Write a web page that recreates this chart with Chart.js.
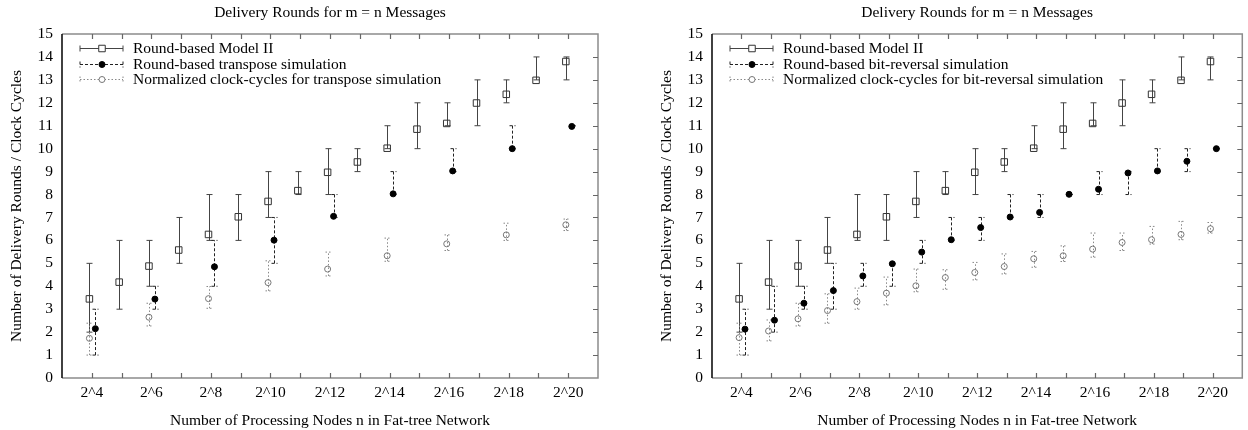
<!DOCTYPE html>
<html>
<head>
  <script src="https://cdn.jsdelivr.net/npm/chart.js@4.4.0/dist/chart.umd.min.js"></script>
  <style>
    body { margin: 0; background: #fff; }
    #wrap { position: relative; width: 1248px; height: 430px; overflow: hidden; }
    canvas { position: absolute; top: 0; }
  </style>
  <script>
    // exponents of n (x axis shows 2^k)
    var exps = [4, 5, 6, 7, 8, 9, 10, 11, 12, 13, 14, 15, 16, 17, 18, 19, 20];
    var evenExps = [4, 6, 8, 10, 12, 14, 16, 18, 20];

    // Round-based Model II (same in both plots)
    var modelMean = [3.45, 4.18, 4.88, 5.58, 6.26, 7.03, 7.7, 8.17, 8.97, 9.42, 10.02, 10.85, 11.1, 11.99, 12.37, 12.98, 13.8];
    var modelLow  = [2, 3, 4, 5, 6, 6, 7, 8, 8, 9, 10, 10, 11, 11, 12, 13, 13];
    var modelHigh = [5, 6, 6, 7, 8, 8, 9, 9, 10, 10, 11, 12, 12, 13, 13, 14, 14];

    // transpose simulation (even exponents only)
    var transMean = [2.15, 3.44, 4.85, 6.01, 7.05, 8.03, 9.03, 10.0, 10.97];
    var transLow  = [1, 3, 4, 5, 7, 8, 9, 10, 11];
    var transHigh = [3, 4, 6, 7, 8, 9, 10, 11, 11];
    var transClkMean = [1.73, 2.65, 3.46, 4.16, 4.75, 5.33, 5.85, 6.24, 6.68];
    var transClkLow  = [1.0, 2.27, 3.04, 3.8, 4.45, 5.09, 5.56, 6.0, 6.43];
    var transClkHigh = [2.39, 3.26, 3.99, 5.11, 5.49, 6.1, 6.24, 6.75, 6.93];

    // bit-reversal simulation (all exponents)
    var bitMean = [2.13, 2.52, 3.26, 3.81, 4.45, 4.98, 5.49, 6.03, 6.56, 7.02, 7.22, 8.01, 8.23, 8.94, 9.03, 9.45, 10.0];
    var bitLow  = [1, 2, 3, 3, 4, 4, 5, 6, 6, 7, 7, 8, 8, 8, 9, 9, 10];
    var bitHigh = [3, 4, 4, 5, 5, 5, 6, 7, 7, 8, 8, 8, 9, 9, 10, 10, 10];
    var bitClkMean = [1.76, 2.05, 2.58, 2.94, 3.33, 3.7, 4.02, 4.38, 4.6, 4.86, 5.2, 5.33, 5.62, 5.91, 6.03, 6.26, 6.51];
    var bitClkLow  = [1.0, 1.62, 2.27, 2.39, 3.0, 3.19, 3.76, 3.87, 4.28, 4.54, 4.83, 5.08, 5.27, 5.56, 5.84, 6.03, 6.32];
    var bitClkHigh = [2.39, 2.53, 3.26, 3.67, 3.92, 4.4, 4.75, 4.72, 5.04, 5.41, 5.52, 5.76, 6.32, 6.32, 6.61, 6.83, 6.78];

    var FONT = 'Liberation Serif, Times New Roman, serif';

    function series(label, xs, mean, low, high, style) {
      return Object.assign({
        label: label,
        data: xs.map(function (e, i) { return { x: e + style.shift, y: mean[i] }; }),
        low: low,
        high: high,
        showLine: false
      }, style);
    }

    var styleModel = { shift: -0.08, pointStyle: 'rect', pointRadius: 4.6, borderWidth: 1, borderColor: '#333', backgroundColor: 'rgba(0,0,0,0)', barColor: '#444', barDash: [], hollow: true };
    var styleSim = { shift: 0.12, pointStyle: 'circle', pointRadius: 3, borderWidth: 1, borderColor: '#000', backgroundColor: '#000', barColor: '#222', barDash: [3, 2], hollow: false };
    var styleClk = { shift: -0.08, pointStyle: 'circle', pointRadius: 3, borderWidth: 1, borderColor: '#777', backgroundColor: 'rgba(0,0,0,0)', barColor: '#888', barDash: [1.5, 2], hollow: true };

    var frame = {
      id: 'frame',
      beforeDatasetsDraw: function (chart) {
        var ctx = chart.ctx, a = chart.chartArea, x = chart.scales.x, y = chart.scales.y;
        ctx.save();
        ctx.lineWidth = 1.5;
        ctx.strokeStyle = '#8c8c8c';
        ctx.beginPath();
        ctx.moveTo(a.left, a.top); ctx.lineTo(a.right, a.top);
        ctx.lineTo(a.right, a.bottom); ctx.lineTo(a.left, a.bottom);
        ctx.stroke();
        // inward tick marks, gnuplot style
        ctx.lineWidth = 1.2;
        ctx.strokeStyle = '#666';
        ctx.beginPath();
        x.ticks.forEach(function (t) {
          if (t.value <= x.min || t.value >= x.max) return;
          var px = Math.round(x.getPixelForValue(t.value)) + 0.5;
          ctx.moveTo(px, a.bottom); ctx.lineTo(px, a.bottom - 5);
          ctx.moveTo(px, a.top); ctx.lineTo(px, a.top + 5);
        });
        y.ticks.forEach(function (t) {
          if (t.value <= y.min || t.value >= y.max) return;
          var py = Math.round(y.getPixelForValue(t.value)) + 0.5;
          ctx.moveTo(a.right, py); ctx.lineTo(a.right - 5, py);
        });
        ctx.stroke();
        ctx.lineWidth = 1.6;
        ctx.strokeStyle = '#111';
        ctx.beginPath();
        ctx.moveTo(a.left, a.top); ctx.lineTo(a.left, a.bottom);
        ctx.stroke();
        ctx.restore();
      }
    };

    function bar(ctx, px, y1, y2, cap) {
      ctx.moveTo(px, y1); ctx.lineTo(px, y2);
      ctx.moveTo(px - cap, y1); ctx.lineTo(px + cap, y1);
      ctx.moveTo(px - cap, y2); ctx.lineTo(px + cap, y2);
    }

    var errorBars = {
      id: 'errorBars',
      beforeDatasetsDraw: function (chart) {
        var ctx = chart.ctx, y = chart.scales.y;
        chart.data.datasets.forEach(function (ds, i) {
          var meta = chart.getDatasetMeta(i);
          ctx.save();
          ctx.strokeStyle = ds.barColor;
          ctx.lineWidth = 1;
          ctx.setLineDash(ds.barDash);
          ctx.beginPath();
          meta.data.forEach(function (pt, j) {
            var px = Math.round(pt.x) + 0.5;
            bar(ctx, px, y.getPixelForValue(ds.low[j]), y.getPixelForValue(ds.high[j]), 3);
          });
          ctx.stroke();
          ctx.restore();
        });
      }
    };

    // key in the top-left corner of the plot
    var keyBox = {
      id: 'keyBox',
      afterDraw: function (chart) {
        var ctx = chart.ctx, a = chart.chartArea;
        ctx.save();
        chart.data.datasets.forEach(function (ds, i) {
          var cy = Math.round(a.top + 14 + i * 15.5) + 0.5;
          var x1 = a.left + 18, x2 = a.left + 61, xm = a.left + 40;
          ctx.strokeStyle = ds.barColor;
          ctx.lineWidth = 1;
          ctx.setLineDash(ds.barDash);
          ctx.beginPath();
          ctx.moveTo(x1, cy); ctx.lineTo(x2, cy);
          ctx.moveTo(x1, cy - 3); ctx.lineTo(x1, cy + 3);
          ctx.moveTo(x2, cy - 3); ctx.lineTo(x2, cy + 3);
          ctx.stroke();
          ctx.setLineDash([]);
          ctx.strokeStyle = ds.borderColor;
          ctx.fillStyle = ds.hollow ? '#fff' : ds.backgroundColor;
          ctx.beginPath();
          if (ds.pointStyle === 'rect') {
            var s = ds.pointRadius * Math.SQRT1_2;
            ctx.rect(xm - s, cy - s, 2 * s, 2 * s);
          } else {
            ctx.arc(xm, cy, ds.pointRadius, 0, Math.PI * 2);
          }
          ctx.fill();
          ctx.stroke();
          ctx.fillStyle = '#000';
          ctx.font = '15.5px ' + FONT;
          ctx.textBaseline = 'middle';
          ctx.textAlign = 'left';
          ctx.fillText(ds.label, a.left + 71, cy);
        });
        ctx.restore();
      }
    };

    function drawGraph(canvasId, padRight, datasets) {
      var ctx = document.getElementById(canvasId).getContext('2d');
      new Chart(ctx, {
        type: 'scatter',
        data: { datasets: datasets },
        options: {
          responsive: false,
          animation: false,
          events: [],
          layout: { padding: { left: 0, right: padRight, top: 0, bottom: 0 } },
          plugins: {
            legend: { display: false },
            tooltip: { enabled: false },
            title: {
              display: true,
              fullSize: false,
              text: 'Delivery Rounds for m = n Messages',
              color: '#000',
              font: { family: FONT, size: 15.5, weight: 'normal' },
              padding: { top: 3.2, bottom: 12.2 }
            }
          },
          scales: {
            x: {
              type: 'linear',
              min: 3,
              max: 21,
              grid: { display: false, drawTicks: false },
              border: { display: false },
              ticks: {
                stepSize: 1,
                autoSkip: false,
                maxRotation: 0,
                padding: 5.7,
                color: '#000',
                font: { family: FONT, size: 15.5 },
                callback: function (v) {
                  return (v % 2 === 0 && v >= 4 && v <= 20) ? '2^' + v : '';
                }
              },
              title: {
                display: true,
                text: 'Number of Processing Nodes n in Fat-tree Network',
                color: '#000',
                font: { family: FONT, size: 15.5 },
                padding: { top: 7.2, bottom: 0 }
              },
              afterFit: function (s) { s.height = 52; }
            },
            y: {
              min: 0,
              max: 15,
              grid: { display: false, drawTicks: false },
              border: { display: false },
              ticks: {
                stepSize: 1,
                padding: 9,
                color: '#000',
                font: { family: FONT, size: 15.5 }
              },
              title: {
                display: true,
                text: 'Number of Delivery Rounds / Clock Cycles',
                color: '#000',
                font: { family: FONT, size: 15.5 },
                padding: { top: 7.7, bottom: 0 }
              },
              afterFit: function (s) { s.width = 62; }
            }
          }
        },
        plugins: [frame, errorBars, keyBox]
      });
    }

    window.onload = function () {
      drawGraph('transposeChart', 52, [
        series('Round-based Model II', exps, modelMean, modelLow, modelHigh, styleModel),
        series('Round-based transpose simulation', evenExps, transMean, transLow, transHigh, styleSim),
        series('Normalized clock-cycles for transpose simulation', evenExps, transClkMean, transClkLow, transClkHigh, styleClk)
      ]);
      drawGraph('bitrevChart', 0, [
        series('Round-based Model II', exps, modelMean, modelLow, modelHigh, styleModel),
        series('Round-based bit-reversal simulation', exps, bitMean, bitLow, bitHigh, styleSim),
        series('Normalized clock-cycles for bit-reversal simulation', exps, bitClkMean, bitClkLow, bitClkHigh, styleClk)
      ]);
    };
  </script>
</head>
<body>
  <div id="wrap">
    <canvas id="transposeChart" width="650" height="430" style="left:0"></canvas>
    <canvas id="bitrevChart" width="598" height="430" style="left:650px"></canvas>
  </div>
</body>
</html>
